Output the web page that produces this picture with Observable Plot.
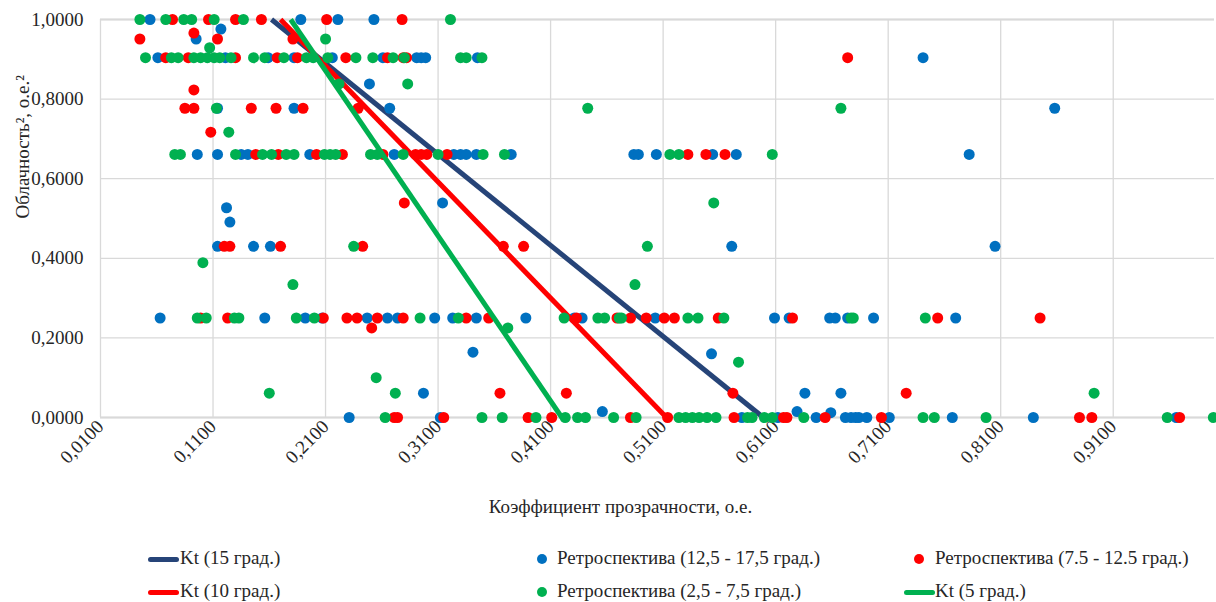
<!DOCTYPE html>
<html><head><meta charset="utf-8">
<script src="https://cdn.jsdelivr.net/npm/d3@7"></script>
<script src="https://cdn.jsdelivr.net/npm/@observablehq/plot@0.6"></script>
<style>
body{margin:0;background:#fff;font-family:"Liberation Serif",Tinos,"Times New Roman","DejaVu Serif",serif;}
#wrap{position:relative;width:1216px;height:602px;}
.lg{position:absolute;font-size:19px;line-height:22px;color:#262626;white-space:nowrap;font-family:"Liberation Serif",Tinos,"Times New Roman","DejaVu Serif",serif;}
.sw{position:absolute;}
svg text{font-family:"Liberation Serif",Tinos,"Times New Roman","DejaVu Serif",serif !important;}
</style></head><body><div id="wrap"></div>
<script>
// ---- data ----
const xTicks = [0.01, 0.11, 0.21, 0.31, 0.41, 0.51, 0.61, 0.71, 0.81, 0.91];
const yTicks = [0, 0.2, 0.4, 0.6, 0.8, 1.0];
const xTitle = "Коэффициент прозрачности, о.е.";
const yTitle = "Облачность², о.е.²";
const seriesNames = ["Kt (15 град.)", "Ретроспектива (12,5 - 17,5 град.)", "Ретроспектива (7.5 - 12.5 град.)",
  "Kt (10 град.)", "Ретроспектива (2,5 - 7,5 град.)", "Kt (5 град.)"];

const kt15 = [[0.162, 1], [0.599, 0]];
const kt10 = [[0.170, 1], [0.513, 0]];
const kt5  = [[0.179, 1], [0.420, 0]];

const retro15 = [
 [0.054,1],[0.188,1],[0.221,1],[0.253,1],[0.117,0.976],[0.095,0.951],
 [0.061,0.904],[0.121,0.904],[0.159,0.904],[0.182,0.904],[0.216,0.904],[0.261,0.904],[0.291,0.904],[0.295,0.904],[0.299,0.904],[0.345,0.904],[0.741,0.904],
 [0.249,0.838],
 [0.114,0.777],[0.182,0.777],[0.267,0.777],[0.858,0.777],
 [0.096,0.661],[0.114,0.661],[0.135,0.661],[0.141,0.661],[0.196,0.661],[0.271,0.661],[0.324,0.661],[0.330,0.661],[0.335,0.661],[0.344,0.661],[0.375,0.661],[0.484,0.661],[0.488,0.661],[0.504,0.661],[0.554,0.661],[0.575,0.661],[0.782,0.661],
 [0.314,0.539],[0.122,0.527],[0.125,0.491],
 [0.114,0.43],[0.146,0.43],[0.161,0.43],[0.571,0.43],[0.805,0.43],
 [0.063,0.25],[0.156,0.25],[0.192,0.25],[0.207,0.25],[0.247,0.25],[0.265,0.25],[0.274,0.25],[0.307,0.25],[0.323,0.25],[0.344,0.25],[0.388,0.25],[0.431,0.25],[0.438,0.25],[0.503,0.25],[0.609,0.25],[0.622,0.25],[0.658,0.25],[0.663,0.25],[0.674,0.25],[0.697,0.25],[0.770,0.25],
 [0.341,0.164],[0.553,0.16],
 [0.297,0.061],[0.636,0.061],[0.668,0.061],
 [0.456,0.015],[0.629,0.015],[0.659,0.012],
 [0.231,0],[0.312,0],[0.580,0],[0.612,0],[0.646,0],[0.672,0],[0.677,0],[0.681,0],[0.684,0],[0.691,0],[0.711,0],[0.767,0],[0.839,0],[0.966,0]
];
const retro10 = [
 [0.074,1],[0.106,1],[0.130,1],[0.153,1],[0.211,1],[0.278,1],[0.093,0.966],
 [0.045,0.951],[0.114,0.951],[0.181,0.951],
 [0.068,0.904],[0.088,0.904],[0.130,0.904],[0.167,0.904],[0.185,0.904],[0.228,0.904],[0.265,0.904],[0.279,0.904],[0.282,0.904],[0.674,0.904],
 [0.093,0.823],
 [0.085,0.777],[0.093,0.777],[0.144,0.777],[0.166,0.777],[0.190,0.777],[0.239,0.777],
 [0.108,0.717],
 [0.148,0.661],[0.168,0.661],[0.202,0.661],[0.225,0.661],[0.261,0.661],[0.290,0.661],[0.295,0.661],[0.300,0.661],[0.318,0.661],[0.532,0.661],[0.548,0.661],[0.565,0.661],
 [0.280,0.539],
 [0.120,0.43],[0.125,0.43],[0.170,0.43],[0.243,0.43],[0.368,0.43],[0.386,0.43],
 [0.099,0.25],[0.123,0.25],[0.208,0.25],[0.229,0.25],[0.238,0.25],[0.256,0.25],[0.279,0.25],[0.335,0.25],[0.355,0.25],[0.433,0.25],[0.469,0.25],[0.481,0.25],[0.495,0.25],[0.511,0.25],[0.520,0.25],[0.559,0.25],[0.625,0.25],[0.754,0.25],[0.845,0.25],
 [0.251,0.225],
 [0.365,0.061],[0.424,0.061],[0.572,0.061],[0.726,0.061],
 [0.271,0],[0.274,0],[0.315,0],[0.390,0],[0.411,0],[0.481,0],[0.514,0],[0.573,0],[0.617,0],[0.620,0],[0.654,0],[0.704,0],[0.880,0],[0.891,0],[0.969,0]
];
const retro5 = [
 [0.045,1],[0.068,1],[0.084,1],[0.091,1],[0.111,1],[0.137,1],[0.321,1],
 [0.210,0.951],[0.107,0.929],
 [0.050,0.904],[0.073,0.904],[0.079,0.904],[0.093,0.904],[0.099,0.904],[0.105,0.904],[0.111,0.904],[0.116,0.904],[0.126,0.904],[0.146,0.904],[0.156,0.904],[0.173,0.904],[0.193,0.904],[0.199,0.904],[0.212,0.904],[0.237,0.904],[0.252,0.904],[0.270,0.904],[0.280,0.904],[0.330,0.904],[0.335,0.904],[0.349,0.904],
 [0.222,0.838],[0.283,0.838],
 [0.113,0.777],[0.443,0.777],[0.668,0.777],
 [0.124,0.717],
 [0.076,0.661],[0.081,0.661],[0.130,0.661],[0.154,0.661],[0.162,0.661],[0.175,0.661],[0.182,0.661],[0.209,0.661],[0.214,0.661],[0.219,0.661],[0.250,0.661],[0.256,0.661],[0.279,0.661],[0.310,0.661],[0.350,0.661],[0.369,0.661],[0.516,0.661],[0.524,0.661],[0.607,0.661],
 [0.555,0.539],
 [0.235,0.43],[0.496,0.43],
 [0.101,0.389],
 [0.181,0.334],[0.485,0.334],
 [0.096,0.25],[0.104,0.25],[0.129,0.25],[0.133,0.25],[0.184,0.25],[0.200,0.25],[0.294,0.25],[0.328,0.25],[0.422,0.25],[0.452,0.25],[0.458,0.25],[0.471,0.25],[0.473,0.25],[0.532,0.25],[0.541,0.25],[0.564,0.25],[0.677,0.25],[0.679,0.25],[0.743,0.25],
 [0.372,0.225],[0.577,0.139],[0.255,0.1],
 [0.160,0.061],[0.272,0.061],[0.893,0.061],
 [0.263,0],[0.349,0],[0.367,0],[0.397,0],[0.423,0],[0.434,0],[0.441,0],[0.466,0],[0.486,0],[0.524,0],[0.530,0],[0.536,0],[0.542,0],[0.549,0],[0.557,0],[0.585,0],[0.589,0],[0.600,0],[0.607,0],[0.635,0],[0.741,0],[0.751,0],[0.797,0],[0.958,0],[0.999,0]
];

const colors = {navy:"#264478", blue:"#0070c0", red:"#ff0000", green:"#00b050"};
const fmt = d => d.toFixed(4).replace(".", ",");
const H = 540;
const serif = "'Liberation Serif', Tinos, 'Times New Roman', 'DejaVu Serif', serif";

const dotOpts = (fill) => ({x: d => d[0], y: d => d[1], r: 5.5, fill, stroke: "none"});
const lineOpts = (stroke) => ({x: d => d[0], y: d => d[1], stroke, strokeWidth: 5, strokeLinecap: "butt"});

const chart = Plot.plot({
  width: 1216, height: H,
  marginLeft: 100, marginRight: 2, marginTop: 19, marginBottom: H - 417,
  style: {fontFamily: serif, fontSize: "19px", color: "#262626", background: "#fff"},
  x: {domain: [0.01, 1.0]},
  y: {domain: [0, 1]},
  marks: [
    Plot.gridX({ticks: xTicks, stroke: "#d9d9d9", strokeOpacity: 1, strokeWidth: 1.3}),
    Plot.gridY({ticks: yTicks, stroke: "#d9d9d9", strokeOpacity: 1, strokeWidth: 1.3}),
    Plot.ruleY([0], {stroke: "#d9d9d9", strokeWidth: 2}),
    Plot.ruleY([1], {stroke: "#d9d9d9", strokeWidth: 2}),
    Plot.axisX({ticks: xTicks, tickFormat: fmt, tickRotate: -45, tickSize: 0, tickPadding: 6, label: null, fontSize: 19}),
    Plot.axisY({ticks: yTicks, tickFormat: fmt, tickSize: 0, tickPadding: 17, label: null, fontSize: 19}),
    Plot.line(kt15, lineOpts(colors.navy)),
    Plot.dot(retro15, dotOpts(colors.blue)),
    Plot.dot(retro10, dotOpts(colors.red)),
    Plot.line(kt10, lineOpts(colors.red)),
    Plot.dot(retro5, dotOpts(colors.green)),
    Plot.line(kt5, lineOpts(colors.green)),
    Plot.text([xTitle], {frameAnchor: "bottom", dx: -37, dy: 95, fontSize: 19, fill: "#262626"}),
    Plot.text([yTitle], {frameAnchor: "left", dx: -78, rotate: -90, fontSize: 19, fill: "#262626"})
  ]
});
const wrap = document.getElementById("wrap");
chart.style.position = "absolute"; chart.style.left = "0"; chart.style.top = "0";
wrap.appendChild(chart);

// ---- legend (HTML, below the SVG) ----
const legendItems = [
  {name: seriesNames[0], kind: "line", color: colors.navy, sx: 148, tx: 180, cy: 559},
  {name: seriesNames[1], kind: "dot", color: colors.blue, sx: 542, tx: 557, cy: 559},
  {name: seriesNames[2], kind: "dot", color: colors.red, sx: 919, tx: 935, cy: 559},
  {name: seriesNames[3], kind: "line", color: colors.red, sx: 148, tx: 180, cy: 592},
  {name: seriesNames[4], kind: "dot", color: colors.green, sx: 542, tx: 557, cy: 592},
  {name: seriesNames[5], kind: "line", color: colors.green, sx: 904, tx: 935, cy: 592}
];
for (const it of legendItems) {
  const sw = document.createElement("div");
  sw.className = "sw";
  if (it.kind === "line") {
    Object.assign(sw.style, {left: it.sx + "px", top: (it.cy - 2.5) + "px", width: "31px", height: "5px", borderRadius: "3px", background: it.color});
  } else {
    Object.assign(sw.style, {left: (it.sx - 5) + "px", top: (it.cy - 5) + "px", width: "10px", height: "10px", borderRadius: "50%", background: it.color});
  }
  wrap.appendChild(sw);
  const t = document.createElement("div");
  t.className = "lg";
  t.textContent = it.name;
  Object.assign(t.style, {left: it.tx + "px", top: (it.cy - 12) + "px"});
  wrap.appendChild(t);
}
</script></body></html>
